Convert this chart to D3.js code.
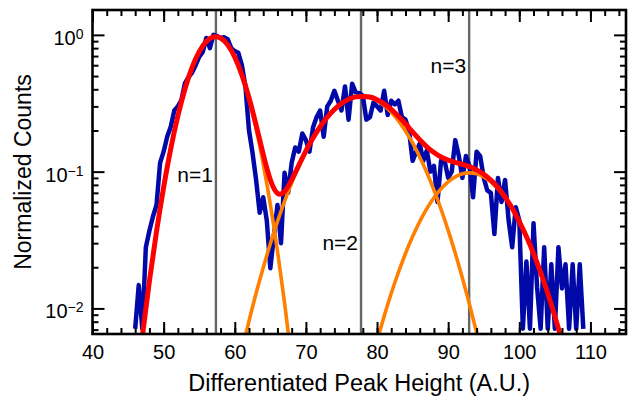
<!DOCTYPE html>
<html>
<head>
<meta charset="utf-8">
<script src="https://cdn.jsdelivr.net/npm/d3@7"></script>
<style>
  body { margin: 0; background: #fff; }
  text { font-family: "Liberation Sans", Arial, Helvetica, sans-serif; fill: #000; }
</style>
</head>
<body>
<script>
// Histogram (normalized counts), bins every 0.5 A.U. starting at 46
const binStart = 46;
const binStep = 0.5;
const counts = [
  0.0071, 0.0148, 0.0071, 0.028, 0.037, 0.047, 0.057, 0.116, 0.14, 0.18,
  0.213, 0.28, 0.30, 0.334, 0.443, 0.49, 0.53, 0.6, 0.69, 0.75,
  0.95, 0.8, 1.0, 0.98, 0.95, 0.96, 0.93, 0.8, 0.76, 0.74,
  0.6, 0.42, 0.2, 0.137, 0.087, 0.05, 0.065, 0.044, 0.0197, 0.034,
  0.057, 0.03, 0.098, 0.07, 0.116, 0.15, 0.14, 0.19, 0.17, 0.14,
  0.21, 0.25, 0.28, 0.18, 0.3, 0.33, 0.39, 0.33, 0.28, 0.42,
  0.24, 0.44, 0.38, 0.375, 0.36, 0.24, 0.25, 0.32, 0.3, 0.28,
  0.39, 0.26, 0.33, 0.31, 0.33, 0.25, 0.24, 0.2, 0.12, 0.14,
  0.16, 0.12, 0.143, 0.1, 0.11, 0.06, 0.12, 0.12, 0.09, 0.1,
  0.17, 0.13, 0.09, 0.13, 0.11, 0.065, 0.14, 0.13, 0.09, 0.073,
  0.07, 0.035, 0.09, 0.06, 0.087, 0.044, 0.028, 0.055, 0.044, 0.0071,
  0.022, 0.0071, 0.042, 0.0143, 0.0071, 0.028, 0.0071, 0.021, 0.0071, 0.028,
  0.014, 0.021, 0.0071, 0.021, 0.0071, 0.021, 0.0071
];

// Fit components (orange)
const fit1X = [46, 47, 48, 49, 50, 51, 52, 53, 54, 55, 56, 57, 58, 59, 60, 61, 62, 63, 64, 65, 66, 67, 68, 69];
const fit1Y = [0.00222, 0.00621, 0.0158, 0.0365, 0.0767, 0.147, 0.255, 0.402, 0.578, 0.754, 0.895, 0.966,
               0.948, 0.845, 0.686, 0.506, 0.339, 0.207, 0.114, 0.0576, 0.0264, 0.011, 0.00416, 0.00143];
const fit2X = [60, 61, 62, 63, 64, 65, 66, 67, 68, 69, 70, 71, 72, 73, 74, 75, 76, 77, 78,
               79, 80, 81, 82, 83, 84, 85, 86, 87, 88, 89, 90, 91, 92, 93, 94, 95, 96];
const fit2Y = [0.00292, 0.00493, 0.00808, 0.0129, 0.0198, 0.0297, 0.0431, 0.0606, 0.0828, 0.110,
               0.141, 0.176, 0.213, 0.250, 0.285, 0.315, 0.338, 0.352, 0.355, 0.347, 0.330, 0.304,
               0.272, 0.236, 0.198, 0.162, 0.128, 0.0985, 0.0734, 0.0531, 0.0372, 0.0253, 0.0167,
               0.0107, 0.00666, 0.00401, 0.00235];
const fit3X = [79, 80, 81, 82, 83, 84, 85, 86, 87, 88, 89, 90, 91, 92, 93,
               94, 95, 96, 97, 98, 99, 100, 101, 102, 103, 104, 105, 106, 107];
const fit3Y = [0.00366, 0.00575, 0.00875, 0.0129, 0.0183, 0.0252, 0.0335, 0.0431, 0.0536, 0.0644,
               0.0749, 0.0843, 0.0916, 0.0964, 0.098, 0.0964, 0.0916, 0.0843, 0.0749, 0.0644,
               0.0536, 0.0431, 0.0335, 0.0252, 0.0183, 0.0129, 0.00875, 0.00575, 0.00366];

// Total fit (red)
const totalX = [46, 47, 48, 49, 50, 51, 52, 53, 54, 55, 56, 57, 58, 59, 60, 61, 62, 63, 64, 65, 66,
                67, 68, 69, 70, 71, 72, 73, 74, 75, 76, 77, 78, 79, 80, 81, 82, 83, 84, 85, 86,
                87, 88, 89, 90, 91, 92, 93, 94, 95, 96, 97, 98, 99, 100, 101, 102, 103, 104, 105, 106, 107];
const totalY = [0.00222, 0.00621, 0.0158, 0.0365, 0.0767, 0.147, 0.255, 0.402, 0.578, 0.754, 0.895,
                0.966, 0.948, 0.845, 0.688, 0.510, 0.347, 0.219, 0.134, 0.0873, 0.0695, 0.0716,
                0.0870, 0.111, 0.142, 0.176, 0.213, 0.250, 0.285, 0.315, 0.338, 0.352, 0.355,
                0.351, 0.336, 0.313, 0.285, 0.254, 0.224, 0.195, 0.171, 0.152, 0.138, 0.128,
                0.1215, 0.117, 0.113, 0.1087, 0.103, 0.0957, 0.0866, 0.0763, 0.0652, 0.054,
                0.0431, 0.0335, 0.0252, 0.0183, 0.0129, 0.00875, 0.00575, 0.00366];

// Peak positions and their labels
const peakX = [57.35, 77.75, 92.95];
const peakLabels = ["n=1", "n=2", "n=3"];
const peakLabelY = [0.084, 0.0267, 0.526];

// Axis tick values
const xMajor = [40, 50, 60, 70, 80, 90, 100, 110];
const xMinor = d3.range(40, 116, 2);
const yMajor = [0.01, 0.1, 1];
const yExp = ["\u22122", "\u22121", "0"];

// Setup variables
const width = 634;
const height = 401;
const xStart = 92.5;
const xEnd = 626;
const yTop = 10;
const yBottom = 334;

const svg = d3.select("body")
      .append("svg")
      .attr("width", width)
      .attr("height", height);

const xScale = d3.scaleLinear().domain([40, 115]).range([xStart, xEnd]);
const yScale = d3.scaleLog().domain([0.0065, 1.52]).range([yBottom, yTop]);

// log minor ticks 2..9 of each decade inside the domain
const yMinor = [0.001, 0.01, 0.1, 1]
      .flatMap(d => [2, 3, 4, 5, 6, 7, 8, 9].map(k => k * d))
      .filter(v => v > yScale.domain()[0] && v < yScale.domain()[1]);

svg.append("defs").append("clipPath").attr("id", "plotClip")
    .append("rect")
    .attr("x", xStart).attr("y", yTop)
    .attr("width", xEnd - xStart).attr("height", yBottom - yTop);

const plot = svg.append("g").attr("clip-path", "url(#plotClip)");

// vertical lines at the peak positions
plot.selectAll("line.peak")
    .data(peakX)
    .join("line")
    .attr("class", "peak")
    .attr("x1", d => xScale(d)).attr("x2", d => xScale(d))
    .attr("y1", yTop).attr("y2", yBottom)
    .attr("stroke", "#666")
    .attr("stroke-width", 2.4);

// histogram drawn as a plain line through the bins
const hist = counts.map((v, i) => [binStart + i * binStep, v]);
plot.append("path")
    .datum(hist)
    .attr("fill", "none")
    .attr("stroke", "#0008a8")
    .attr("stroke-width", 4.5)
    .attr("stroke-linejoin", "round")
    .attr("d", d3.line()
        .x(d => xScale(d[0]))
        .y(d => yScale(d[1])));

const fitLine = d3.line()
      .x(d => xScale(d[0]))
      .y(d => yScale(d[1]))
      .curve(d3.curveNatural);

// orange components
[[fit1X, fit1Y], [fit2X, fit2Y], [fit3X, fit3Y]].forEach(([xs, ys]) => {
    plot.append("path")
        .datum(xs.map((x, i) => [x, ys[i]]))
        .attr("fill", "none")
        .attr("stroke", "#ff8000")
        .attr("stroke-width", 3.6)
        .attr("d", fitLine);
});

// red total fit
plot.append("path")
    .datum(totalX.map((x, i) => [x, totalY[i]]))
    .attr("fill", "none")
    .attr("stroke", "#ff0000")
    .attr("stroke-width", 5)
    .attr("d", fitLine);

// n= labels
svg.selectAll("text.peakLabel")
    .data(peakLabels)
    .join("text")
    .attr("class", "peakLabel")
    .attr("x", (d, i) => xScale(peakX[i]) - 3)
    .attr("y", (d, i) => yScale(peakLabelY[i]))
    .attr("text-anchor", "end")
    .attr("font-size", 21)
    .text(d => d);

// Axes: all ticks point inward
const styleAxis = g => {
    g.select(".domain").remove();
    g.selectAll(".tick line").attr("stroke", "#000").attr("stroke-width", 2);
};

svg.append("g")
    .attr("transform", `translate(0, ${yBottom})`)
    .call(d3.axisBottom(xScale).tickValues(xMinor).tickSize(-6).tickFormat(""))
    .call(styleAxis);
svg.append("g")
    .attr("transform", `translate(0, ${yBottom})`)
    .call(d3.axisBottom(xScale).tickValues(xMajor).tickSize(-12).tickPadding(11))
    .call(styleAxis)
    .selectAll("text").attr("font-size", 20).attr("font-family", "Liberation Sans, Arial, sans-serif");

svg.append("g")
    .attr("transform", `translate(0, ${yTop})`)
    .call(d3.axisTop(xScale).tickValues(xMinor).tickSize(-6).tickFormat(""))
    .call(styleAxis);
svg.append("g")
    .attr("transform", `translate(0, ${yTop})`)
    .call(d3.axisTop(xScale).tickValues(xMajor).tickSize(-12).tickFormat(""))
    .call(styleAxis);

svg.append("g")
    .attr("transform", `translate(${xStart}, 0)`)
    .call(d3.axisLeft(yScale).tickValues(yMinor).tickSize(-6).tickFormat(""))
    .call(styleAxis);
svg.append("g")
    .attr("transform", `translate(${xStart}, 0)`)
    .call(d3.axisLeft(yScale).tickValues(yMajor).tickSize(-12).tickFormat(""))
    .call(styleAxis);
svg.append("g")
    .attr("transform", `translate(${xEnd}, 0)`)
    .call(d3.axisRight(yScale).tickValues(yMinor).tickSize(-6).tickFormat(""))
    .call(styleAxis);
svg.append("g")
    .attr("transform", `translate(${xEnd}, 0)`)
    .call(d3.axisRight(yScale).tickValues(yMajor).tickSize(-12).tickFormat(""))
    .call(styleAxis);

// y tick labels as 10 with superscript exponent
const yLabels = svg.selectAll("text.ylab")
      .data(yMajor)
      .join("text")
      .attr("class", "ylab")
      .attr("x", xStart - 9)
      .attr("y", d => yScale(d) + 10)
      .attr("text-anchor", "end")
      .attr("font-size", 20);
yLabels.append("tspan").text("10");
yLabels.append("tspan")
    .attr("font-size", 14)
    .attr("dy", -6)
    .text((d, i) => yExp[i]);

// frame
svg.append("rect")
    .attr("x", xStart).attr("y", yTop)
    .attr("width", xEnd - xStart).attr("height", yBottom - yTop)
    .attr("fill", "none")
    .attr("stroke", "#000")
    .attr("stroke-width", 2.6);

// axis titles
svg.append("text")
    .attr("x", (xStart + xEnd) / 2)
    .attr("y", 391)
    .attr("text-anchor", "middle")
    .attr("font-size", 23.5)
    .text("Differentiated Peak Height (A.U.)");

svg.append("text")
    .attr("transform", `translate(31, ${(yTop + yBottom) / 2}) rotate(-90)`)
    .attr("text-anchor", "middle")
    .attr("font-size", 23)
    .text("Normalized Counts");
</script>
</body>
</html>
